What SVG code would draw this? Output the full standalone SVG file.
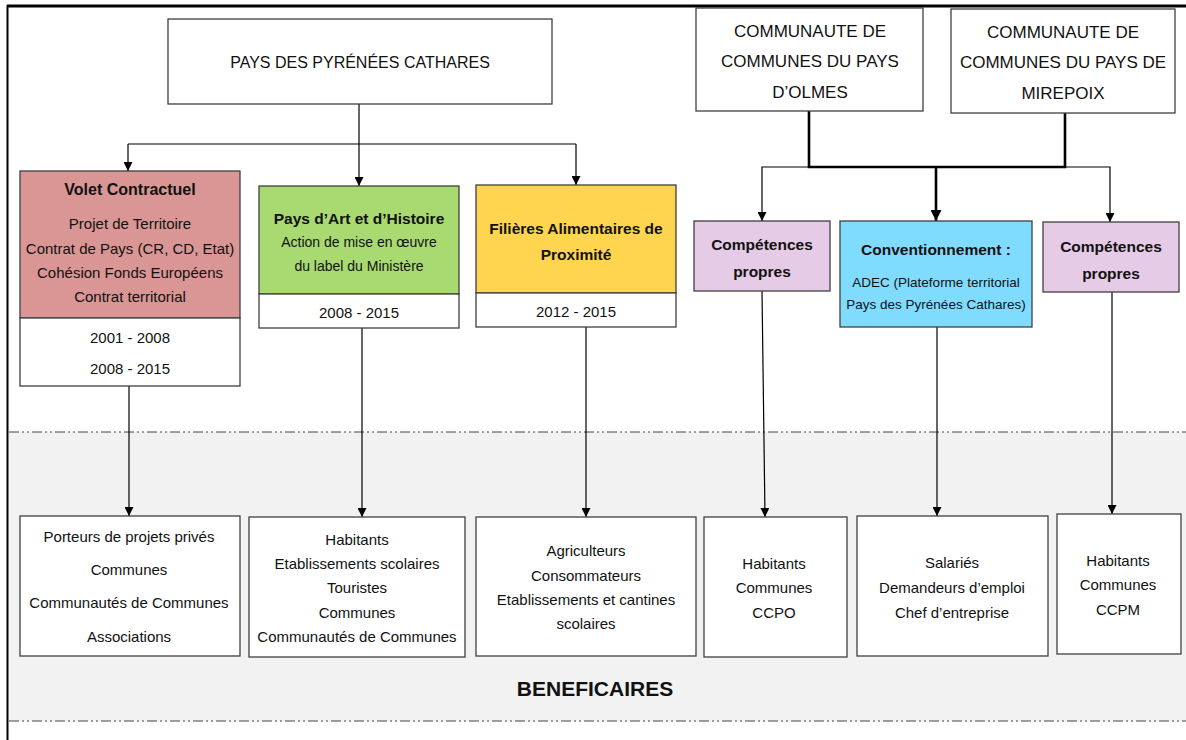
<svg xmlns="http://www.w3.org/2000/svg" width="1186" height="740" viewBox="0 0 1186 740">
<style>
.box{stroke:#3f3f3f;stroke-width:1.3}
.t{font-family:"Liberation Sans",Arial,sans-serif;font-size:15px;fill:#111;text-anchor:middle;dominant-baseline:central}
.cap{font-size:16px}
.cc{font-size:17px}
.b{font-weight:bold;font-size:15.5px}
.sm{font-size:13.5px}
.c{fill:none;stroke:#000;stroke-width:1.2}
.k{fill:none;stroke:#000;stroke-width:2.6}
.dd{stroke:#444;stroke-width:1.2;stroke-dasharray:10 3 2 3 2 3}
</style>
<defs>
<marker id="ar" viewBox="0 0 10 10" refX="10" refY="5" markerWidth="9" markerHeight="9" markerUnits="userSpaceOnUse" orient="auto"><path d="M0,0 L10,5 L0,10 z" fill="#000"/></marker>
<marker id="arb" viewBox="0 0 10 10" refX="10" refY="5" markerWidth="11" markerHeight="11" markerUnits="userSpaceOnUse" orient="auto"><path d="M0,0 L10,5 L0,10 z" fill="#000"/></marker>
</defs>
<rect x="0" y="0" width="1186" height="740" fill="#fff"/>
<g id="frame">
<rect x="9" y="432" width="1177" height="289" fill="#f2f2f2"/>
<line class="dd" x1="9" y1="432" x2="1186" y2="432"/>
<line class="dd" x1="9" y1="721" x2="1186" y2="721"/>
<line x1="7" y1="6" x2="1186" y2="6" stroke="#000" stroke-width="3"/>
<line x1="7.5" y1="5" x2="7.5" y2="740" stroke="#000" stroke-width="2"/>
<text class="t" x="595" y="688" style="font-weight:bold;font-size:21px">BENEFICAIRES</text>
</g>
<g id="connectors">
<path class="c" d="M359,104 V144 M128,144 H576"/>
<path class="c" d="M128,144 V171" marker-end="url(#ar)"/>
<path class="c" d="M359,144 V186" marker-end="url(#ar)"/>
<path class="c" d="M576,144 V185" marker-end="url(#ar)"/>
<path class="c" d="M129,386 V516" marker-end="url(#ar)"/>
<path class="c" d="M362,328 V517" marker-end="url(#ar)"/>
<path class="c" d="M586,327 V517" marker-end="url(#ar)"/>
<path class="k" d="M809,111 V167 H1065 V113"/>
<path class="k" d="M936,167 V221" marker-end="url(#arb)"/>
<path class="c" d="M809,167 H762 V221" marker-end="url(#ar)"/>
<path class="c" d="M1065,167 H1110 V222" marker-end="url(#ar)"/>
<path class="c" d="M762,291 L765,517" marker-end="url(#ar)"/>
<path class="c" d="M937,327 V516" marker-end="url(#ar)"/>
<path class="c" d="M1112,292 V514" marker-end="url(#ar)"/>
</g>
<g id="pays">
<rect class="box" x="168" y="19" width="384" height="85" fill="#fff"/>
<text class="t cap" x="360" y="62">PAYS DES PYRÉNÉES CATHARES</text>
</g>
<g id="olmes">
<rect class="box" x="696" y="8" width="227" height="103" fill="#fff"/>
<text class="t cc" x="810" y="31">COMMUNAUTE DE</text>
<text class="t cc" x="810" y="61">COMMUNES DU PAYS</text>
<text class="t cc" x="810" y="92">D’OLMES</text>
</g>
<g id="mirepoix">
<rect class="box" x="951" y="9" width="224" height="104" fill="#fff"/>
<text class="t cc" x="1063" y="32">COMMUNAUTE DE</text>
<text class="t cc" x="1063" y="62">COMMUNES DU PAYS DE</text>
<text class="t cc" x="1063" y="93">MIREPOIX</text>
</g>
<g id="volet">
<rect class="box" x="20" y="171" width="220" height="147" fill="#d99694"/>
<rect class="box" x="20" y="318" width="220" height="68" fill="#fff"/>
<text class="t" x="130" y="189" style="font-weight:bold;font-size:16px">Volet Contractuel</text>
<text class="t" x="130" y="223">Projet de Territoire</text>
<text class="t" x="130" y="248">Contrat de Pays (CR, CD, Etat)</text>
<text class="t" x="130" y="272">Cohésion Fonds Européens</text>
<text class="t" x="130" y="296">Contrat territorial</text>
<text class="t" x="130" y="337">2001 - 2008</text>
<text class="t" x="130" y="368">2008 - 2015</text>
</g>
<g id="art">
<rect class="box" x="259" y="186" width="200" height="108" fill="#a9d971"/>
<rect class="box" x="259" y="294" width="200" height="34" fill="#fff"/>
<text class="t b" x="359" y="218">Pays d’Art et d’Histoire</text>
<text class="t sm" x="359" y="242" style="font-size:14px">Action de mise en œuvre</text>
<text class="t sm" x="359" y="266" style="font-size:14px">du label du Ministère</text>
<text class="t" x="359" y="312">2008 - 2015</text>
</g>
<g id="filieres">
<rect class="box" x="476" y="185" width="200" height="108" fill="#ffd44f"/>
<rect class="box" x="476" y="293" width="200" height="34" fill="#fff"/>
<text class="t b" x="576" y="228">Filières Alimentaires de</text>
<text class="t b" x="576" y="254">Proximité</text>
<text class="t" x="576" y="311">2012 - 2015</text>
</g>
<g id="comp1">
<rect class="box" x="694" y="221" width="136" height="70" fill="#e5cbe6"/>
<text class="t b" x="762" y="244">Compétences</text>
<text class="t b" x="762" y="271">propres</text>
</g>
<g id="conv">
<rect class="box" x="840" y="221" width="192" height="106" fill="#7fdcff"/>
<text class="t b" x="936" y="249">Conventionnement :</text>
<text class="t sm" x="936" y="282">ADEC (Plateforme territorial</text>
<text class="t sm" x="936" y="304">Pays des Pyrénées Cathares)</text>
</g>
<g id="comp2">
<rect class="box" x="1043" y="222" width="136" height="70" fill="#e5cbe6"/>
<text class="t b" x="1111" y="246">Compétences</text>
<text class="t b" x="1111" y="273">propres</text>
</g>
<g id="ben1">
<rect class="box" x="20" y="516" width="220" height="140" fill="#fff"/>
<text class="t" x="129" y="536">Porteurs de projets privés</text>
<text class="t" x="129" y="569">Communes</text>
<text class="t" x="129" y="602">Communautés de Communes</text>
<text class="t" x="129" y="636">Associations</text>
</g>
<g id="ben2">
<rect class="box" x="249" y="517" width="216" height="140" fill="#fff"/>
<text class="t" x="357" y="539">Habitants</text>
<text class="t" x="357" y="563">Etablissements scolaires</text>
<text class="t" x="357" y="587">Touristes</text>
<text class="t" x="357" y="612">Communes</text>
<text class="t" x="357" y="636">Communautés de Communes</text>
</g>
<g id="ben3">
<rect class="box" x="476" y="517" width="220" height="139" fill="#fff"/>
<text class="t" x="586" y="550">Agriculteurs</text>
<text class="t" x="586" y="575">Consommateurs</text>
<text class="t" x="586" y="599">Etablissements et cantines</text>
<text class="t" x="586" y="623">scolaires</text>
</g>
<g id="ben4">
<rect class="box" x="704" y="517" width="143" height="140" fill="#fff"/>
<text class="t" x="774" y="563">Habitants</text>
<text class="t" x="774" y="587">Communes</text>
<text class="t" x="774" y="612">CCPO</text>
</g>
<g id="ben5">
<rect class="box" x="857" y="516" width="191" height="140" fill="#fff"/>
<text class="t" x="952" y="562">Salariés</text>
<text class="t" x="952" y="587">Demandeurs d’emploi</text>
<text class="t" x="952" y="612">Chef d’entreprise</text>
</g>
<g id="ben6">
<rect class="box" x="1057" y="514" width="124" height="140" fill="#fff"/>
<text class="t" x="1118" y="560">Habitants</text>
<text class="t" x="1118" y="584">Communes</text>
<text class="t" x="1118" y="609">CCPM</text>
</g>
</svg>
